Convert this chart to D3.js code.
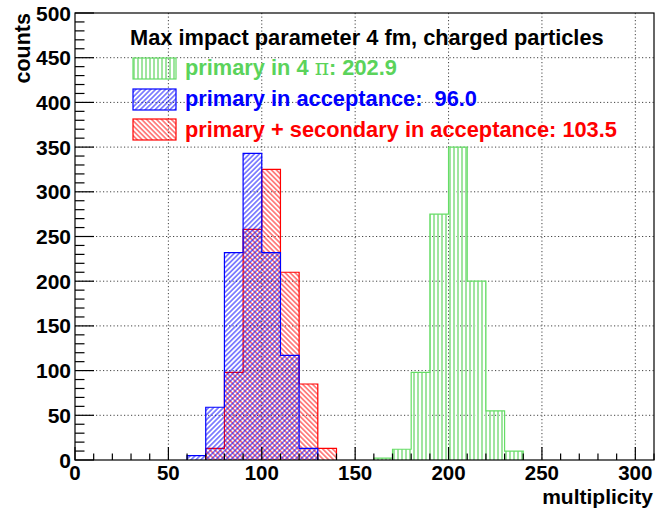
<!DOCTYPE html>
<html>
<head>
    <script src="https://d3js.org/d3.v7.min.js"></script>
    <style>
        body { margin: 0; background: #fff; }
        text { font-family: "Liberation Sans", Arial, sans-serif; font-weight: bold; }
    </style>
</head>
<body>
    <svg id="chart"></svg>

    <script>
        var Width = 655, Height = 511;
        var Left = 75, Right = 654, Top = 13, Bottom = 460;

        // histogram contents, bin width 10
        var binWidth = 10;
        var greenStart = 160;
        var greenCounts = [2, 12, 98, 275, 350, 200, 55, 10];
        var blueStart = 60;
        var blueCounts = [5, 59, 232, 343, 232, 117, 13];
        var redStart = 70;
        var redCounts = [13, 98, 258, 325, 210, 85, 13];

        var xTicks = [0, 50, 100, 150, 200, 250, 300];
        var yTicks = [0, 50, 100, 150, 200, 250, 300, 350, 400, 450, 500];

        var legendTitle = "Max impact parameter 4 fm, charged particles";
        var legendLabels = ["primary in 4 ", "primary in acceptance:  96.0", "primary + secondary in acceptance: 103.5"];
        var greenMean = ": 202.9";

        var svg = d3.select("#chart").attr("width", Width).attr("height", Height);

        var x = d3.scaleLinear().domain([0, 310]).range([Left, Right]);
        var y = d3.scaleLinear().domain([0, 500]).range([Bottom, Top]);

        // hatch patterns
        var defs = svg.append("defs");
        function hatch(id, color, angle, size, sw)
        {
            var p = defs.append("pattern")
                .attr("id", id)
                .attr("patternUnits", "userSpaceOnUse")
                .attr("width", size).attr("height", 10)
                .attr("patternTransform", "rotate(" + angle + ")");
            p.append("line")
                .attr("x1", size / 2).attr("x2", size / 2)
                .attr("y1", 0).attr("y2", 10)
                .attr("stroke", color).attr("stroke-width", sw);
        }
        hatch("hGreen", "#9fe59f", 0, 4, 2);
        hatch("hBlue", "#0000ff", 45, 3.5, 0.9);
        hatch("hRed", "#ff0000", -45, 3.5, 0.9);

        // grid
        var grid = svg.append("g").attr("stroke", "#444").attr("stroke-dasharray", "1.2,2.3").attr("stroke-width", 1);
        grid.selectAll(".gx").data(xTicks.filter(function(d){ return d > 0; }))
            .enter().append("line")
            .attr("x1", function(d){ return x(d); }).attr("x2", function(d){ return x(d); })
            .attr("y1", Top).attr("y2", Bottom);
        grid.selectAll(".gy").data(yTicks.filter(function(d){ return d > 0 && d < 500; }))
            .enter().append("line")
            .attr("x1", Left).attr("x2", Right)
            .attr("y1", function(d){ return y(d); }).attr("y2", function(d){ return y(d); });

        function makeBins(start, counts)
        {
            return counts.map(function(c, i){
                return { lo: start + i * binWidth, hi: start + (i + 1) * binWidth, n: c };
            });
        }

        function stepPath(bins)
        {
            var p = d3.path();
            p.moveTo(x(bins[0].lo), y(0));
            bins.forEach(function(b){
                p.lineTo(x(b.lo), y(b.n));
                p.lineTo(x(b.hi), y(b.n));
            });
            p.lineTo(x(bins[bins.length - 1].hi), y(0));
            return p.toString();
        }

        function drawHist(start, counts, fill, color)
        {
            var bins = makeBins(start, counts);
            var g = svg.append("g");
            g.selectAll("rect").data(bins).enter().append("rect")
                .attr("x", function(d){ return x(d.lo); })
                .attr("width", function(d){ return x(d.hi) - x(d.lo); })
                .attr("y", function(d){ return y(d.n); })
                .attr("height", function(d){ return y(0) - y(d.n); })
                .attr("fill", "url(#" + fill + ")");
            g.append("path")
                .attr("d", stepPath(bins))
                .attr("fill", "none")
                .attr("stroke", color)
                .attr("stroke-width", 1.2);
        }

        drawHist(greenStart, greenCounts, "hGreen", "#66dd66");
        drawHist(redStart, redCounts, "hRed", "#ff0000");
        drawHist(blueStart, blueCounts, "hBlue", "#0000ff");

        // frame
        svg.append("rect")
            .attr("x", Left).attr("y", Top)
            .attr("width", Right - Left).attr("height", Bottom - Top)
            .attr("fill", "none").attr("stroke", "#000").attr("stroke-width", 1.2);

        // ticks (inside, ROOT style)
        var xMinor = d3.range(0, 311, 10);
        svg.append("g").selectAll("line").data(xMinor).enter().append("line")
            .attr("x1", function(d){ return x(d); }).attr("x2", function(d){ return x(d); })
            .attr("y1", Bottom)
            .attr("y2", function(d){ return d % 50 === 0 ? Bottom - 13 : Bottom - 6.5; })
            .attr("stroke", "#000").attr("stroke-width", 1.2);
        var yMinor = d3.range(0, 501, 10);
        svg.append("g").selectAll("line").data(yMinor).enter().append("line")
            .attr("y1", function(d){ return y(d); }).attr("y2", function(d){ return y(d); })
            .attr("x1", Left)
            .attr("x2", function(d){ return d % 50 === 0 ? Left + 19 : Left + 9.5; })
            .attr("stroke", "#000").attr("stroke-width", 1.2);

        // tick labels
        svg.append("g").selectAll("text").data(xTicks).enter().append("text")
            .attr("x", function(d){ return x(d); })
            .attr("y", 480)
            .attr("text-anchor", "middle")
            .attr("font-size", 20.5)
            .text(function(d){ return d; });
        svg.append("g").selectAll("text").data(yTicks).enter().append("text")
            .attr("x", 71)
            .attr("y", function(d){ return y(d) + 7.5; })
            .attr("text-anchor", "end")
            .attr("font-size", 21)
            .text(function(d){ return d; });

        // axis titles
        svg.append("text")
            .attr("x", 653).attr("y", 503.5)
            .attr("text-anchor", "end")
            .attr("font-size", 21)
            .text("multiplicity");
        svg.append("text")
            .attr("transform", "translate(30," + Top + ") rotate(-90)")
            .attr("text-anchor", "end")
            .attr("font-size", 21.5)
            .text("counts");

        // legend
        svg.append("text")
            .attr("x", 130).attr("y", 44.5)
            .attr("font-size", 21.8)
            .attr("fill", "#000")
            .text(legendTitle);

        var legendColors = ["#5bd35b", "#0000ff", "#ff0000"];
        var legendFills = ["hGreen", "hBlue", "hRed"];
        var legendBoxTop = [58, 89, 119];
        var legendBase = [74.5, 105.5, 136.5];

        legendLabels.forEach(function(lbl, i){
            svg.append("rect")
                .attr("x", 133).attr("y", legendBoxTop[i])
                .attr("width", 43).attr("height", 21)
                .attr("fill", "url(#" + legendFills[i] + ")")
                .attr("stroke", i === 0 ? "#66dd66" : legendColors[i])
                .attr("stroke-width", 1.2);
            var t = svg.append("text")
                .attr("x", 185).attr("y", legendBase[i])
                .attr("font-size", 21.8)
                .attr("fill", legendColors[i])
                .attr("xml:space", "preserve")
                .style("white-space", "pre");
            t.append("tspan").text(lbl);
            if (i === 0)
            {
                t.append("tspan").attr("font-weight", "normal").attr("font-family", "DejaVu Serif, serif").text("\u03c0");
                t.append("tspan").text(greenMean);
            }
        });
    </script>
</body>
</html>
